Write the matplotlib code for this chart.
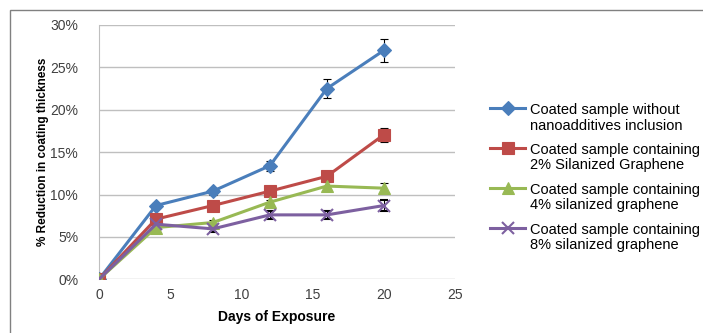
import matplotlib
matplotlib.use("Agg")
import matplotlib.pyplot as plt
from matplotlib.patches import Rectangle
from matplotlib.ticker import FuncFormatter

# data (percent reduction in coating thickness)
days = [0, 4, 8, 12, 16, 20]

no_additive = [0.0, 8.7, 10.4, 13.4, 22.5, 27.0]
no_additive_err = [0.0, 0.3, 0.4, 0.6, 1.1, 1.35]

sg_2 = [0.0, 7.1, 8.7, 10.4, 12.15, 17.05]
sg_2_err = [0.0, 0.2, 0.2, 0.2, 0.3, 0.8]

sg_4 = [0.0, 6.1, 6.7, 9.1, 11.0, 10.75]
sg_4_err = [0.0, 0.2, 0.3, 0.3, 0.45, 0.6]

sg_8 = [0.0, 6.5, 5.95, 7.6, 7.6, 8.7]
sg_8_err = [0.0, 0.3, 0.35, 0.45, 0.45, 0.6]

labels = [
    "Coated sample without\nnanoadditives inclusion",
    "Coated sample containing\n2% Silanized Graphene",
    "Coated sample containing\n4% silanized graphene",
    "Coated sample containing\n8% silanized graphene",
]

plt.rcParams['font.family'] = ['Liberation Sans', 'DejaVu Sans']

fig = plt.figure(figsize=(7.03, 3.33), dpi=100)
# outer chart border like the spreadsheet chart frame
fig.patches.append(Rectangle((10 / 703, -0.01), 1.0, (333 - 10) / 333 + 0.01,
                             transform=fig.transFigure, fill=False,
                             edgecolor='#808080', linewidth=1.0))

ax = fig.add_axes([99 / 703, (333 - 279.3) / 333, 356 / 703, 254.3 / 333])

series = [
    (no_additive, no_additive_err, '#4A7EBB', 'D', 7),
    (sg_2, sg_2_err, '#BE4B48', 's', 8.5),
    (sg_4, sg_4_err, '#98B954', '^', 8.5),
    (sg_8, sg_8_err, '#7D60A0', 'x', 8),
]

for (vals, err, col, mk, ms), lab in zip(series, labels):
    ax.errorbar(days, vals, yerr=err, color=col, ecolor='black', elinewidth=0.8,
                capsize=3, capthick=0.8, linewidth=2.2, marker=mk, markersize=ms,
                markeredgewidth=1.5 if mk == 'x' else 0.8, label=lab, zorder=3)

ax.set_xlim(0, 25)
ax.set_ylim(0, 30)
ax.set_xticks(range(0, 26, 5))
ax.set_yticks(range(0, 31, 5))
ax.yaxis.set_major_formatter(FuncFormatter(lambda v, p: f"{v:.0f}%"))
ax.grid(axis='y', color='#BFBFBF', linewidth=1.0, zorder=0)
ax.set_axisbelow(True)
for s in ['top', 'right', 'bottom']:
    ax.spines[s].set_visible(False)
ax.spines['left'].set_color('#BFBFBF')
ax.tick_params(axis='both', length=0, labelsize=10, colors='#404040')
ax.tick_params(axis='y', pad=15)
ax.tick_params(axis='x', pad=6)

ax.set_xlabel("Days of Exposure", fontsize=10, fontweight='bold', labelpad=6)
ax.set_ylabel("% Reduction in coating thickness", fontsize=8.5, fontweight='bold', labelpad=1)

handles, labs = ax.get_legend_handles_labels()
handles = [h[0] for h in handles]
leg = fig.legend(handles, labs, loc='upper left', bbox_to_anchor=(483 / 703, 1 - 96 / 333),
                 frameon=False, fontsize=10.5, handlelength=2.4, handletextpad=0.3,
                 labelspacing=0.72, borderpad=0)
for t in leg.get_texts():
    t.set_linespacing(1.12)
# put each handle level with the first text line, as the spreadsheet legend does
for col in leg._legend_handle_box.get_children():
    for row in col.get_children():
        row.align = "top"

fig.savefig("out.png", dpi=100)
